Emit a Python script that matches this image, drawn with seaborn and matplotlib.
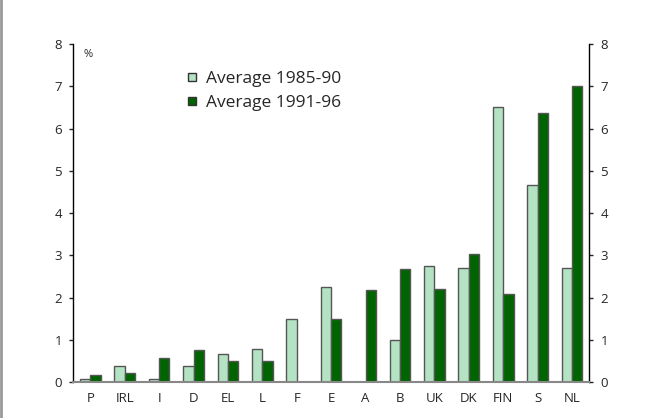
import pandas as pd
import seaborn as sns
import matplotlib.pyplot as plt
from matplotlib.lines import Line2D

# Countries and values (%)
countries = ["P", "IRL", "I", "D", "EL", "L", "F", "E", "A", "B", "UK", "DK", "FIN", "S", "NL"]
avg_1985_90 = [0.07, 0.37, 0.07, 0.37, 0.66, 0.79, 1.5, 2.25, 0.0, 1.0, 2.75, 2.71, 6.5, 4.67, 2.71]
avg_1991_96 = [0.16, 0.21, 0.58, 0.75, 0.49, 0.49, 0.0, 1.5, 2.17, 2.67, 2.21, 3.04, 2.08, 6.37, 7.0]
series = ["Average 1985-90", "Average 1991-96"]

df = pd.DataFrame({
    "country": countries * 2,
    "value": avg_1985_90 + avg_1991_96,
    "period": [series[0]] * len(countries) + [series[1]] * len(countries),
})

sns.set_style("white")
plt.rcParams['font.family'] = ['Open Sans', 'DejaVu Sans']

fig = plt.figure(figsize=(6.65, 4.18), dpi=100)
ax = fig.add_axes([0.11, 0.0861, 0.776, 0.8086])

palette = {series[0]: "#b3e3c3", series[1]: "#006400"}
sns.barplot(data=df, x="country", y="value", hue="period", palette=palette,
            width=0.6, gap=0, edgecolor="#555555", linewidth=1, saturation=1, ax=ax)

ax.set_xlim(-0.5, len(countries) - 0.5)
ax.set_ylim(0, 8)
ax.set_xlabel("")
ax.set_ylabel("")

# x ticks between categories
ax.set_xticks([i - 0.5 for i in range(len(countries) + 1)], minor=True)
ax.tick_params(axis="x", which="major", length=0, labelsize=9.5, pad=7)
ax.tick_params(axis="x", which="minor", length=5, width=1, color="black", direction="out")
ax.tick_params(axis="y", length=3, width=1, direction="out", labelsize=9.5, pad=5,
               left=True, right=True, labelleft=True, labelright=True)
ax.set_yticks(range(0, 9))

for s in ["left", "right"]:
    ax.spines[s].set_visible(True)
    ax.spines[s].set_color("black")
    ax.spines[s].set_linewidth(1)
ax.spines["top"].set_visible(False)
ax.spines["bottom"].set_color("#888888")
ax.spines["bottom"].set_linewidth(1.5)

ax.text(0.02, 0.985, "%", transform=ax.transAxes, fontsize=8, va="top", ha="left")

handles = [Line2D([], [], marker="s", linestyle="", markersize=6,
                  markerfacecolor=palette[s], markeredgecolor="#333333") for s in series]
ax.legend(handles, series, loc="upper left", bbox_to_anchor=(0.2, 0.94), frameon=False,
          fontsize=12.5, handletextpad=0.3, labelspacing=0.45, handlelength=1.0,
          borderaxespad=0)

# thin frame line on the left edge of the image
fig.add_artist(Line2D([0.002, 0.002], [0, 1], transform=fig.transFigure, color="#999999", linewidth=2))

fig.savefig("out.png", dpi=100)
